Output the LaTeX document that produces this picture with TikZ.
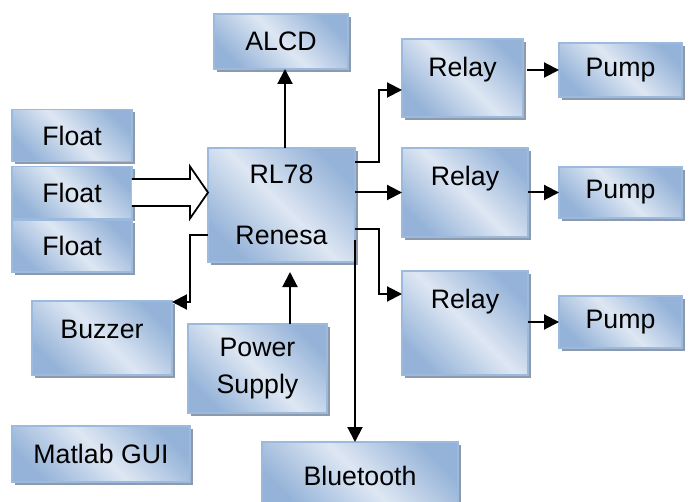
\documentclass[tikz,border=0pt]{standalone}
\usepackage{fontspec}
\setmainfont{Liberation Sans}
\usetikzlibrary{arrows.meta, positioning, calc, shadows}
\definecolor{bdark}{RGB}{149,179,216}
\definecolor{blight}{RGB}{222,231,243}
\definecolor{bedge}{RGB}{155,186,222}
\definecolor{shadowc}{RGB}{140,154,172}

\begin{document}
\begin{tikzpicture}[x=0.02cm, y=-0.02cm,
            blk/.style={rectangle, draw=bedge, line width=0.03cm, inner sep=0pt, outer sep=0pt, top color=bdark, bottom color=bdark, middle color=blight, shading angle=-45, drop shadow={shadow xshift=0.06cm, shadow yshift=-0.06cm, fill=shadowc, opacity=1}, font=\fontsize{15.2}{18.2}\selectfont, align=center},
            txt/.style={font=\fontsize{15.2}{18.2}\selectfont, inner sep=0pt, anchor=base},
            arr/.style={-{Triangle[length=0.3cm, width=0.3cm]}, line width=0.04cm}
        ]
            \useasboundingbox (0,0) rectangle (689,502);

% Sensors and controller
            \foreach \y/\n in {135.5/f1, 192.5/f2, 246/f3}
                \node[blk, minimum width=2.4cm, minimum height=1.04cm] (\n) at (72,\y) {Float};
            \node[blk, minimum width=2.94cm, minimum height=2.28cm] (rl) at (281.5,205) {RL78\\[16.5pt]Renesa};
            \node[blk, minimum width=2.68cm, minimum height=1.1cm] (alcd) at (281,41.5) {ALCD};

% Relays and pumps
            \node[blk, minimum width=2.42cm, minimum height=1.56cm] (r1) at (462.5,78) {};
            \node[blk, minimum width=2.52cm, minimum height=1.78cm] (r2) at (465,192.5) {};
            \node[blk, minimum width=2.52cm, minimum height=2.08cm] (r3) at (465,323) {};
            \foreach \n in {r1, r2, r3}
                \node[txt] (\n t) at ($(\n.north)+(0,37.5)$) {Relay};
            \node[blk, minimum width=2.46cm, minimum height=1.08cm] (p1) at (620.5,70) {Pump};
            \node[blk, minimum width=2.46cm, minimum height=1.02cm] (p2) at (620.5,192.5) {Pump};
            \node[blk, minimum width=2.46cm, minimum height=1.04cm] (p3) at (620.5,322) {Pump};

% Lower blocks
            \node[blk, minimum width=2.8cm, minimum height=1.48cm, text depth=10pt] (bz) at (102,338) {Buzzer};
            \node[blk, minimum width=2.78cm, minimum height=1.78cm] (ps) at (257.5,368.5) {Power\\[2.8pt]Supply};
            \node[blk, minimum width=3.56cm, minimum height=1.12cm] (gui) at (101,454) {Matlab GUI};
            \node[blk, minimum width=3.92cm, minimum height=1.36cm] (bt) at (360,476) {Bluetooth};

% Hollow arrow from the floats
            \coordinate (fa) at (f2.east);
            \coordinate (fb) at (rl.west |- f2.east);
            \draw[line width=0.035cm, fill=white] ($(fa)+(0,-13.5)$) -- ($(fb)+(-18,-13.5)$) -- ($(fb)+(-18,-26)$) -- (fb)
                -- ($(fb)+(-18,26)$) -- ($(fb)+(-18,13.5)$) -- ($(fa)+(0,13.5)$);

% Connectors
            \draw[arr] ($(rl.north)+(3.5,0)$) coordinate (ra) -- (ra |- alcd.south);
            \draw[arr] ($(rl.north east)+(0,14)$) -- ++(24,0) |- ($(r1.west)+(0,12)$);
            \draw[arr] (rl.east |- r2.west) -- (r2.west);
            \draw[arr] ($(rl.east)+(0,24)$) -- ++(24,0) |- ($(r3.west)+(0,-29)$);
            \draw[arr] ($(rl.south east)+(0,-22)$) coordinate (rb) -- (rb |- bt.north);
            \draw[arr] ($(rl.south west)+(0,-27)$) -- ++(-18,0) |- ($(bz.north east)+(0,1)$);
            \draw[arr] ($(ps.north)+(32.5,0)$) -- ++(0,-52);
            \draw[arr] ($(r1.east |- p1.west)+(4,0)$) -- (p1.west);
            \draw[arr] (r2.east |- p2.west) -- (p2.west);
            \draw[arr] (r3.east |- p3.west) -- (p3.west);

        \end{tikzpicture}
\end{document}
